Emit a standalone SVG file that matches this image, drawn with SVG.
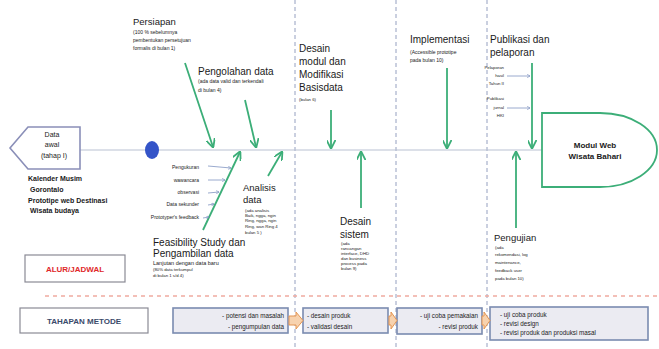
<svg xmlns="http://www.w3.org/2000/svg" width="659" height="349" viewBox="0 0 659 349">
<defs>
<marker id="ga" viewBox="0 0 10 10" refX="9" refY="5" markerWidth="5" markerHeight="5" orient="auto"><path d="M0,0 L10,5 L0,10" fill="none" stroke="#3cae78" stroke-width="2"/></marker>
<marker id="ba" viewBox="0 0 10 10" refX="9" refY="5" markerWidth="4" markerHeight="4" orient="auto"><path d="M0,0 L10,5 L0,10" fill="none" stroke="#6f86b8" stroke-width="1.5"/></marker>
<style>
text{font-family:"Liberation Sans",Arial,sans-serif;fill:#1a1a1a}
.h{font-size:9.5px}
.hw{font-size:10px}
.hl{font-size:10px}
.s{font-size:5px}
.xs{font-size:4.3px}
.b{font-weight:bold}
.g{stroke:#3cae78;stroke-width:1.8;fill:none;marker-end:url(#ga)}
.sb{stroke:#8fa0c8;stroke-width:0.9;fill:none;marker-end:url(#ba)}
.vd{stroke:#95a0c0;stroke-width:1;stroke-dasharray:4,3;fill:none}
.step{fill:#ebebf2;stroke:#7a8bb0;stroke-width:1.6}
.oa{fill:#f7d2ae;stroke:#e49552;stroke-width:1}
.st{font-size:6.3px;fill:#222}
</style>
</defs>
<rect width="659" height="349" fill="#fff"/>

<g id="grid">
<line class="vd" x1="295" y1="0" x2="295" y2="349"/>
<line class="vd" x1="396" y1="0" x2="396" y2="349"/>
<line class="vd" x1="487" y1="0" x2="487" y2="349"/>
<line x1="45" y1="296" x2="659" y2="296" stroke="#f0aaa0" stroke-width="1.5" stroke-dasharray="4,4"/>
</g>

<g id="connectors">
<line x1="80" y1="150" x2="542" y2="150" stroke="#b9c1d2" stroke-width="1"/>
<line class="g" x1="185" y1="63" x2="213" y2="147"/>
<line class="g" x1="245" y1="100" x2="256" y2="147"/>
<line class="g" x1="203" y1="230" x2="240" y2="152"/>
<line class="g" x1="268" y1="176" x2="282" y2="152"/>
<line class="g" x1="331" y1="110" x2="331" y2="148"/>
<line class="g" x1="361" y1="208" x2="361" y2="152"/>
<line class="g" x1="447" y1="68" x2="447" y2="148"/>
<line class="g" x1="532" y1="63" x2="532" y2="148"/>
<line class="g" x1="516" y1="228" x2="516" y2="152"/>
<line class="sb" x1="208" y1="166" x2="231" y2="168"/>
<line class="sb" x1="208" y1="180" x2="225" y2="180"/>
<line class="sb" x1="208" y1="193" x2="219" y2="192"/>
<line class="sb" x1="208" y1="205" x2="214" y2="204"/>
<line class="sb" x1="203" y1="218" x2="209" y2="217"/>
<line class="sb" x1="507" y1="76" x2="530" y2="76"/>
<line class="sb" x1="507" y1="108" x2="530" y2="108"/>
</g>

<g id="start">
<path d="M10,148 L28,127 L80,127 L80,169 L28,169 Z" fill="#fff" stroke="#8a8fb8" stroke-width="1.6"/>
<text x="52" y="137" text-anchor="middle" style="font-size:7px">Data</text>
<text x="52" y="147" text-anchor="middle" style="font-size:7px">awal</text>
<text x="54" y="158" text-anchor="middle" style="font-size:7px">(tahap I)</text>
</g>

<g id="dot"><ellipse cx="152" cy="150" rx="7" ry="9" fill="#3454c8"/></g>

<g id="inputs">
<text class="b" x="28" y="181" style="font-size:7px">Kalender Musim</text>
<text class="b" x="30" y="192" style="font-size:7px">Gorontalo</text>
<text class="b" x="28" y="203" style="font-size:7px">Prototipe web Destinasi</text>
<text class="b" x="30" y="213" style="font-size:7px">Wisata budaya</text>
</g>

<g id="sources">
<text class="s" x="199" y="169" text-anchor="end">Pengukuran</text>
<text class="s" x="199" y="182" text-anchor="end">wawancara</text>
<text class="s" x="199" y="194" text-anchor="end">observasi</text>
<text class="s" x="199" y="206" text-anchor="end">Data sekunder</text>
<text class="s" x="199" y="219" text-anchor="end">Prototyper's feedback</text>
</g>

<g id="persiapan">
<text class="h" x="133" y="25">Persiapan</text>
<text class="s" x="133" y="34">(100 % sebelumnya</text>
<text class="s" x="133" y="42">pembentukan persetujuan</text>
<text class="s" x="133" y="50">formalis  di bulan 1)</text>
</g>

<g id="pengolahan">
<text class="hw" x="198" y="75">Pengolahan data</text>
<text class="s" x="198" y="83">(ada data valid dan terkendali</text>
<text class="s" x="198" y="92">di bulan 4)</text>
</g>

<g id="feasibility">
<text class="hw" x="153" y="246">Feasibility Study dan</text>
<text class="hw" x="153" y="257">Pengambilan data</text>
<text class="s" x="153" y="265" style="font-size:5.5px">Lanjutan dengan data baru</text>
<text class="xs" x="153" y="271">(80% data terkumpul</text>
<text class="xs" x="153" y="277">di bulan 1 s/d 4)</text>
</g>

<g id="analisis">
<text class="h" x="243" y="191">Analisis</text>
<text class="h" x="243" y="203">data</text>
<text class="xs" x="245" y="212">(ada analisis</text>
<text class="xs" x="245" y="217">Baik, ngga, ngin</text>
<text class="xs" x="245" y="222">Ring, ngga, ngin</text>
<text class="xs" x="245" y="228">Ring, wan Ring 4</text>
<text class="xs" x="245" y="234">bulan 5 )</text>
</g>

<g id="desainmodul">
<text class="hl" x="299" y="52">Desain</text>
<text class="hl" x="299" y="65">modul dan</text>
<text class="hl" x="299" y="78">Modifikasi</text>
<text class="hl" x="299" y="91">Basisdata</text>
<text class="xs" x="299" y="101">(bulan 6)</text>
</g>

<g id="desainsistem">
<text class="hl" x="340" y="225">Desain</text>
<text class="hl" x="340" y="238">sistem</text>
<text class="xs" x="341" y="245">(ada</text>
<text class="xs" x="341" y="250">rancangan</text>
<text class="xs" x="341" y="255">interface, DHD</text>
<text class="xs" x="341" y="260">dan business</text>
<text class="xs" x="341" y="265">process pada</text>
<text class="xs" x="341" y="270">bulan 9)</text>
</g>

<g id="implementasi">
<text class="hl" x="410" y="43">Implementasi</text>
<text class="s" x="410" y="54">(Accessible prototipe</text>
<text class="s" x="410" y="62">pada bulan 10)</text>
</g>

<g id="publikasi">
<text class="hl" x="490" y="43">Publikasi dan</text>
<text class="hl" x="490" y="56">pelaporan</text>
<text class="xs" x="504" y="69" text-anchor="end">Pelaporan</text>
<text class="xs" x="504" y="77" text-anchor="end">hasil</text>
<text class="xs" x="504" y="85" text-anchor="end">Tahun II</text>
<text class="xs" x="504" y="100" text-anchor="end">Publikasi</text>
<text class="xs" x="504" y="109" text-anchor="end">jurnal</text>
<text class="xs" x="504" y="117" text-anchor="end">HKI</text>
</g>

<g id="pengujian">
<text class="h" x="494" y="241">Pengujian</text>
<text class="xs" x="495" y="249">(ada</text>
<text class="xs" x="495" y="256">rekomendasi, log</text>
<text class="xs" x="495" y="264">maintenance,</text>
<text class="xs" x="495" y="272">feedback user</text>
<text class="xs" x="495" y="280">pada bulan 10)</text>
</g>

<g id="modul">
<path d="M542,113 H600 A57,37 0 0 1 600,187 H542 Z" fill="#fff" stroke="#3cae78" stroke-width="1.8"/>
<text class="b" x="595" y="148" text-anchor="middle" style="font-size:8px">Modul Web</text>
<text class="b" x="595" y="159" text-anchor="middle" style="font-size:8px">Wisata Bahari</text>
</g>

<g id="alur">
<rect x="25" y="255" width="100" height="27" fill="#fff" stroke="#8a8a95" stroke-width="1.2"/>
<text class="b" x="75" y="272" text-anchor="middle" style="font-size:8px;fill:#e0282a">ALUR/JADWAL</text>
</g>

<g id="tahapan">
<rect x="20" y="308" width="128" height="25" fill="#fff" stroke="#8a8a95" stroke-width="1.2"/>
<text class="b" x="84" y="324" text-anchor="middle" style="font-size:8px;fill:#3a4a6a">TAHAPAN METODE</text>
</g>

<g id="step1">
<rect class="step" x="173" y="308" width="115" height="25"/>
<text class="st" x="284" y="318" text-anchor="end">- potensi dan masalah</text>
<text class="st" x="284" y="329" text-anchor="end">- pengumpulan data</text>
</g>
<g id="step2">
<rect class="step" x="303" y="308" width="85" height="25"/>
<text class="st" x="307" y="318">- desain produk</text>
<text class="st" x="307" y="329">- validasi desain</text>
</g>
<g id="step3">
<rect class="step" x="397" y="308" width="85" height="26"/>
<text class="st" x="478" y="318" text-anchor="end">- uji coba pemakaian</text>
<text class="st" x="478" y="329" text-anchor="end">- revisi produk</text>
</g>
<g id="step4">
<rect class="step" x="490" y="307" width="158" height="33"/>
<text class="st" x="500" y="317">- uji coba produk</text>
<text class="st" x="500" y="326">- revisi design</text>
<text class="st" x="500" y="335">- revisi produk dan produksi masal</text>
</g>

<g id="step-arrows">
<path class="oa" d="M289,316 H296 V312 L303,320.5 L296,329 V325 H289 Z"/>
<path class="oa" d="M389,316 H391 V312 L397,320.5 L391,329 V325 H389 Z"/>
<path class="oa" d="M482,316 H484 V312 L490,320.5 L484,329 V325 H482 Z"/>
</g>
</svg>
